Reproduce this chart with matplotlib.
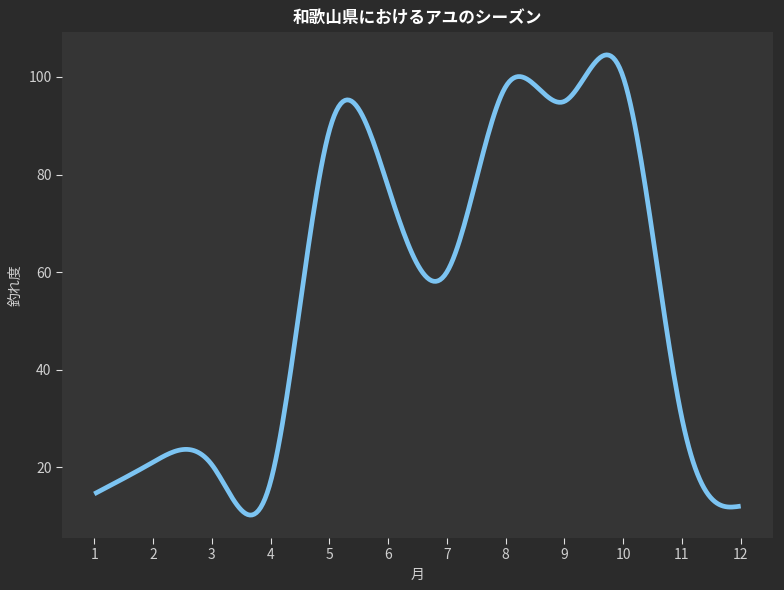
import matplotlib; matplotlib.use('Agg')
import matplotlib.pyplot as plt
import numpy as np

plt.rcParams['font.family'] = ['Noto Sans CJK JP', 'DejaVu Sans']

# monthly values
months = [1, 2, 3, 4, 5, 6, 7, 8, 9, 10, 11, 12]
scores = [14.5, 21.0, 20.5, 17.0, 89.0, 77.5, 60.0, 98.0, 95.0, 100.0, 30.0, 12.0]


def smooth_curve(x, y, num=300):
    # natural cubic spline through the monthly points
    x = np.asarray(x, float)
    y = np.asarray(y, float)
    n = len(x)
    h = x[1] - x[0]
    A = np.zeros((n, n))
    b = np.zeros(n)
    A[0, 0] = 1
    A[-1, -1] = 1
    for i in range(1, n - 1):
        A[i, i - 1:i + 2] = [1, 4, 1]
        b[i] = 6 * (y[i - 1] - 2 * y[i] + y[i + 1]) / h ** 2
    M = np.linalg.solve(A, b)
    xs = np.linspace(x[0], x[-1], num)
    idx = np.clip(np.searchsorted(x, xs) - 1, 0, n - 2)
    x0, x1 = x[idx], x[idx + 1]
    ys = (M[idx] * (x1 - xs) ** 3 / (6 * h) + M[idx + 1] * (xs - x0) ** 3 / (6 * h)
          + (y[idx] / h - M[idx] * h / 6) * (x1 - xs)
          + (y[idx + 1] / h - M[idx + 1] * h / 6) * (xs - x0))
    return xs, ys


fig, ax = plt.subplots(figsize=(7.84, 5.9), dpi=100)
fig.patch.set_facecolor('#2b2b2b')
ax.set_facecolor('#353535')
fig.subplots_adjust(left=0.079, right=0.986, top=0.946, bottom=0.088)

xs, ys = smooth_curve(months, scores)
ax.plot(xs, ys, color='#7cc4f2', linewidth=3.4, solid_capstyle='butt')

ax.set_xticks(months)
for s in ax.spines.values():
    s.set_visible(False)
ax.tick_params(colors='#e0e0e0', labelcolor='#d0d0d0', labelsize=10, length=4)
ax.set_xlabel('月', color='#d0d0d0', fontsize=10)
ax.set_ylabel('釣れ度', color='#d0d0d0', fontsize=10)
ax.set_title('和歌山県におけるアユのシーズン', color='white', fontsize=12, fontweight='bold')

plt.savefig('out.png', dpi=100, facecolor=fig.get_facecolor())
plt.close()
